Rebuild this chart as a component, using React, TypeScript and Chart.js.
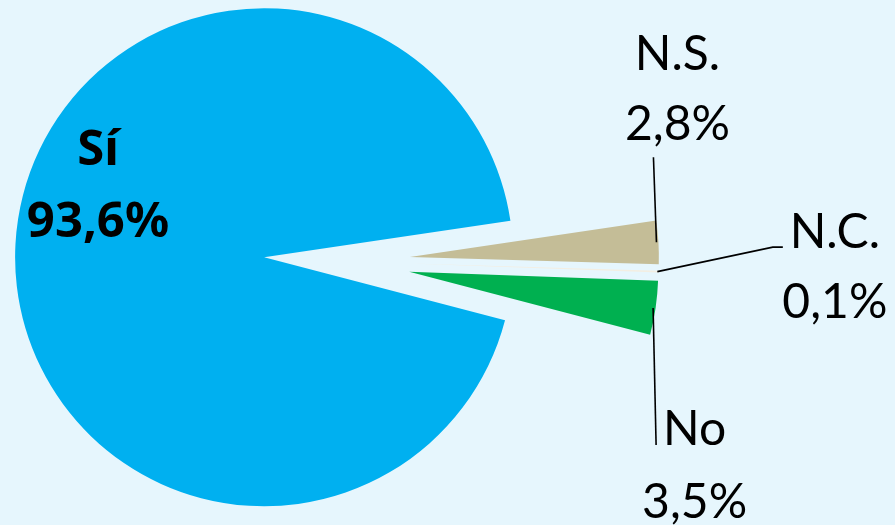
import { useEffect, useRef } from 'react';
import { Chart, PieController, ArcElement } from 'chart.js';

Chart.register(PieController, ArcElement);

// ---- data ----
const categories = ['N.S.', 'N.C.', 'No', 'Sí'];
const values = [2.8, 0.1, 3.5, 93.6];

// ---- style / layout ----
const sliceColors = ['#c4bd97', '#f3eee2', '#00b050', '#00b0f0'];
const BG = '#e6f6fd';
const W = 895;
const H = 525;
const RADIUS = 249;
const EXPLODE = 73; // pixel translation of every slice along its mid angle
const ROTATION = 81.6; // degrees
const CX = 337;
const CY = 261.2;
const FONT = 'Lato, "Noto Sans", sans-serif';
const BOLD_FONT = '"Noto Sans", "Open Sans", sans-serif';

type Place = { dx: number; lines: number[]; leader: number[][]; bold?: boolean; size: number };
// label placement relative to the midpoint of each slice's outer edge
const placements: Place[] = [
  { dx: 19, lines: [-172, -102], leader: [[-2, 0], [-5, -85]], size: 48 },
  { dx: 176, lines: [-23.7, 46.3], leader: [[-1.5, 0], [114, -24.5], [124, -24.5]], size: 48 },
  { dx: 39, lines: [137, 210], leader: [[-2.5, 0], [0.5, 137]], size: 48 },
  { dx: 82.5, lines: [-78.7, -6.7], leader: [], bold: true, size: 49 },
];

const fmt = (v: number) => v.toFixed(1).replace('.', ',') + '%';

// explode every slice by moving its own centre outwards along its mid angle
const explodePlugin = {
  id: 'explodeSlices',
  beforeDatasetsDraw(chart: any) {
    const area = chart.chartArea;
    const bx = (area.left + area.right) / 2;
    const by = (area.top + area.bottom) / 2;
    const meta = chart.getDatasetMeta(0);
    meta.data.forEach((el: any) => {
      const mid = (el.startAngle + el.endAngle) / 2;
      el.x = bx + EXPLODE * Math.cos(mid);
      el.y = by + EXPLODE * Math.sin(mid);
      el.outerRadius = RADIUS;
      el.innerRadius = 0;
    });
  },
};

const labelPlugin = {
  id: 'sliceLabels',
  afterDatasetsDraw(chart: any) {
    const ctx: CanvasRenderingContext2D = chart.ctx;
    const meta = chart.getDatasetMeta(0);
    meta.data.forEach((el: any, i: number) => {
      const p = placements[i];
      const mid = (el.startAngle + el.endAngle) / 2;
      const ax = el.x + RADIUS * Math.cos(mid);
      const ay = el.y + RADIUS * Math.sin(mid);
      ctx.save();
      if (p.leader.length > 1) {
        ctx.strokeStyle = '#000';
        ctx.lineWidth = 1.6;
        ctx.beginPath();
        p.leader.forEach((pt, k) => {
          if (k === 0) ctx.moveTo(ax + pt[0], ay + pt[1]);
          else ctx.lineTo(ax + pt[0], ay + pt[1]);
        });
        ctx.stroke();
      }
      ctx.fillStyle = '#000';
      ctx.textAlign = 'center';
      ctx.textBaseline = 'alphabetic';
      ctx.font = p.bold ? `normal normal bold ${p.size}px ${BOLD_FONT}` : `normal normal normal ${p.size}px ${FONT}`;
      ctx.fillText(categories[i], ax + p.dx, ay + p.lines[0]);
      ctx.fillText(fmt(values[i]), ax + p.dx, ay + p.lines[1]);
      ctx.restore();
    });
  },
};

export default function App() {
  const ref = useRef<HTMLCanvasElement>(null);
  useEffect(() => {
    document.body.style.margin = '0';
    document.body.style.background = BG;
    const chart = new Chart(ref.current!, {
      type: 'pie',
      data: {
        labels: categories,
        datasets: [
          {
            data: values,
            backgroundColor: sliceColors,
            borderWidth: 0,
            offset: 0,
            hoverOffset: 0,
            rotation: ROTATION,
            radius: RADIUS,
          } as any,
        ],
      },
      options: {
        animation: false,
        responsive: true,
        maintainAspectRatio: false,
        rotation: ROTATION,
        radius: RADIUS,
        layout: { padding: { left: 0, top: 0, right: W - 2 * CX, bottom: H - 2 * CY } },
        plugins: { legend: { display: false }, tooltip: { enabled: false } },
        events: [],
      } as any,
      plugins: [explodePlugin, labelPlugin],
    });
    return () => chart.destroy();
  }, []);
  return (
    <div style={{ width: W, height: H, position: 'relative', background: BG }}>
      <canvas ref={ref} />
    </div>
  );
}
